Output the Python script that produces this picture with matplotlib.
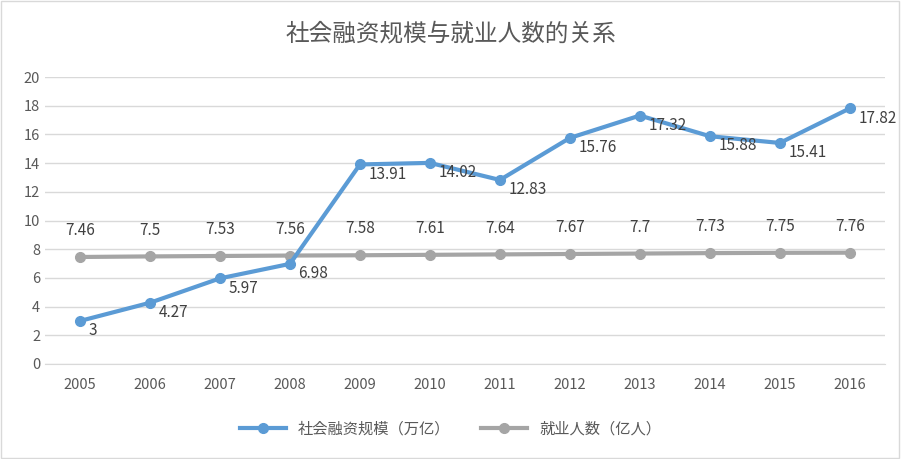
import matplotlib.pyplot as plt
from matplotlib import font_manager
from matplotlib.patches import Rectangle

cjk = [f.name for f in font_manager.fontManager.ttflist if 'CJK' in f.name]
plt.rcParams['font.family'] = sorted(set(cjk)) + ['DejaVu Sans'] if cjk else ['DejaVu Sans']

years = ['2005', '2006', '2007', '2008', '2009', '2010', '2011', '2012', '2013', '2014', '2015', '2016']
financing = [3, 4.27, 5.97, 6.98, 13.91, 14.02, 12.83, 15.76, 17.32, 15.88, 15.41, 17.82]
employment = [7.46, 7.5, 7.53, 7.56, 7.58, 7.61, 7.64, 7.67, 7.7, 7.73, 7.75, 7.76]

fig = plt.figure(figsize=(9.01, 4.59), dpi=100)
ax = fig.add_axes([0.05, 0.207, 0.932, 0.625])
x = list(range(len(years)))

ax.plot(x, financing, color='#5b9bd5', lw=3, marker='o', ms=7, label='社会融资规模（万亿）', zorder=3)
ax.plot(x, employment, color='#a5a5a5', lw=3, marker='o', ms=7, label='就业人数（亿人）', zorder=2)

for i, v in enumerate(financing):
    ax.annotate(f'{v:g}', (i, v), xytext=(6, -7), textcoords='offset points',
                fontsize=11, color='#404040', va='center', ha='left')
for i, v in enumerate(employment):
    ax.annotate(f'{v:g}', (i, v), xytext=(0, 19), textcoords='offset points',
                fontsize=11, color='#404040', va='center', ha='center')

ax.set_xlim(-0.5, 11.5)
ax.set_ylim(0, 20)
ax.set_yticks(range(0, 21, 2))
ax.set_xticks(x)
ax.set_xticklabels(years)
ax.grid(axis='y', color='#d9d9d9', lw=1)
ax.set_axisbelow(True)
for s in ['top', 'right', 'left']:
    ax.spines[s].set_visible(False)
ax.spines['bottom'].set_color('#d9d9d9')
ax.tick_params(length=0, labelsize=10.5, colors='#595959')
ax.tick_params(axis='x', pad=10)

fig.suptitle('社会融资规模与就业人数的关系', y=0.95, fontsize=17, color='#595959')
fig.legend(loc='center', bbox_to_anchor=(0.5, 0.065), ncol=2, frameon=False,
           fontsize=11, labelcolor='#595959', handlelength=3)
fig.patches.append(Rectangle((0.001, 0.002), 0.997, 0.995, transform=fig.transFigure,
                             fill=False, edgecolor='#d9d9d9', lw=1))

fig.savefig('out.png', dpi=100)
